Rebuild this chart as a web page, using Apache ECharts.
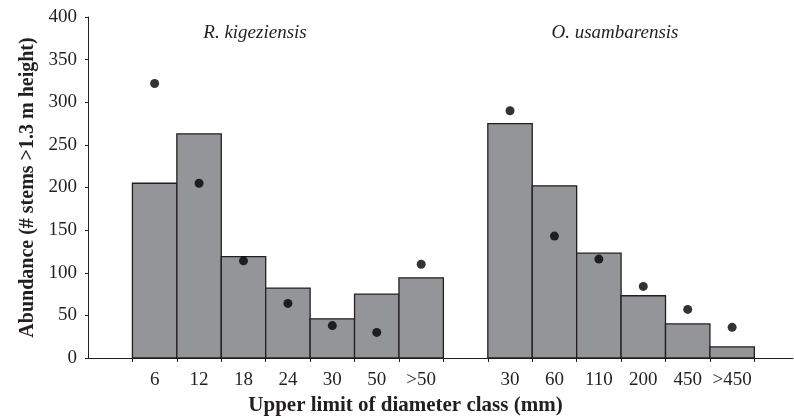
<!DOCTYPE html>
<html>
<head>
<meta charset="utf-8">
<script src="https://cdn.jsdelivr.net/npm/echarts@6/dist/echarts.min.js"></script>
<style>
html,body{margin:0;padding:0;background:#fff;}
#c{width:794px;height:418px;}
</style>
</head>
<body>
<div id="c"></div>
<script>
// Group 1: R. kigeziensis
var catsA = ['6', '12', '18', '24', '30', '50', '>50'];
var barsA = [205, 263, 119, 82, 46, 75, 94];
var dotsA = [322, 205, 114, 64, 38, 30, 110];
// Group 2: O. usambarensis
var catsB = ['30', '60', '110', '200', '450', '>450'];
var barsB = [275, 202, 123, 73, 40, 13];
var dotsB = [290, 143, 116, 84, 57, 36];
var groupNames = ['R. kigeziensis', 'O. usambarensis'];
var yTicks = [0, 50, 100, 150, 200, 250, 300, 350, 400];

var font = '"Liberation Serif", "Times New Roman", serif';
var ink = '#231f20';

// layout slots along x: one empty slot, group A, one empty slot, group B
var startA = 1, startB = startA + catsA.length + 1;
var barData = [], dotData = [], labelPos = [], labelText = {}, tickPos = [];
catsA.forEach(function (c, i) {
  barData.push([startA + i, startA + i + 1, barsA[i]]);
  dotData.push([startA + i + 0.5, dotsA[i]]);
  labelPos.push(startA + i + 0.5); labelText[startA + i + 0.5] = c;
});
catsB.forEach(function (c, i) {
  barData.push([startB + i, startB + i + 1, barsB[i]]);
  dotData.push([startB + i + 0.5, dotsB[i]]);
  labelPos.push(startB + i + 0.5); labelText[startB + i + 0.5] = c;
});
for (var t = startA; t <= startA + catsA.length; t++) tickPos.push(t);
for (var t2 = startB; t2 <= startB + catsB.length; t2++) tickPos.push(t2);

var chart = echarts.init(document.getElementById('c'), null, {renderer: 'canvas'});
chart.setOption({
  animation: false,
  backgroundColor: '#fff',
  grid: {left: 88, right: 1, top: 17, bottom: 60, containLabel: false, outerBoundsMode: 'none'},
  graphic: [
    {type: 'text', x: 255, y: 23, style: {text: groupNames[0], font: 'italic 19px ' + font, fill: ink, align: 'center'}},
    {type: 'text', x: 615, y: 23, style: {text: groupNames[1], font: 'italic 19px ' + font, fill: ink, align: 'center'}}
  ],
  xAxis: {
    type: 'value', min: 0, max: 15.87,
    name: 'Upper limit of diameter class (mm)',
    nameLocation: 'middle', nameGap: 37,
    nameTextStyle: {fontFamily: font, fontSize: 21, fontWeight: 'bold', color: ink, padding: [0, 70, 0, 0]},
    axisLine: {lineStyle: {color: ink, width: 1}},
    axisTick: {show: true, length: 4, customValues: tickPos, lineStyle: {color: ink}},
    axisLabel: {
      customValues: labelPos, margin: 13,
      fontFamily: font, fontSize: 19, color: ink,
      formatter: function (v) { return labelText[v] || ''; }
    },
    splitLine: {show: false}
  },
  yAxis: {
    type: 'value', min: 0, max: 400, interval: 50,
    name: 'Abundance (# stems >1.3 m height)',
    nameLocation: 'middle', nameGap: 50,
    nameTextStyle: {fontFamily: font, fontSize: 20, fontWeight: 'bold', color: ink},
    axisLine: {show: true, lineStyle: {color: ink, width: 1}},
    axisTick: {show: true, length: 3, lineStyle: {color: ink}},
    axisLabel: {margin: 11, fontFamily: font, fontSize: 19, color: ink,
      formatter: function (v) { return yTicks.indexOf(v) >= 0 ? String(v) : ''; }},
    splitLine: {show: false}
  },
  series: [
    {
      type: 'custom',
      data: barData,
      encode: {x: [0, 1], y: 2},
      renderItem: function (params, api) {
        var p0 = api.coord([api.value(0), api.value(2)]);
        var p1 = api.coord([api.value(1), 0]);
        return {
          type: 'rect',
          shape: {x: p0[0], y: p0[1], width: p1[0] - p0[0], height: p1[1] - p0[1]},
          style: {fill: '#939598', stroke: ink, lineWidth: 1.3}
        };
      }
    },
    {
      type: 'scatter',
      data: dotData,
      symbol: 'circle', symbolSize: 9,
      itemStyle: {color: '#000'},
      z: 5
    }
  ]
});
</script>
</body>
</html>
